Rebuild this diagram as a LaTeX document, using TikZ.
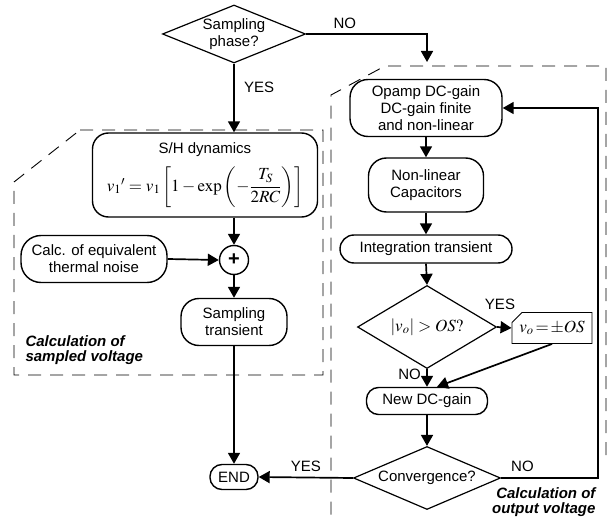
\documentclass[tikz,border=0pt]{standalone}
\usepackage{amsmath}
\usepackage{mathptmx}
\usepackage[no-math]{fontspec}
\setmainfont{Liberation Sans}
\usetikzlibrary{arrows.meta,positioning,shapes.geometric,shapes.misc}
\newcommand{\lab}{\fontsize{15}{17}\selectfont}
\newcommand{\mlab}{\fontsize{17}{20}\selectfont}
\newcommand{\tagfont}{\fontsize{15}{15}\selectfont\bfseries\itshape}
\tikzset{
  flow/.style={-{Triangle[length=11pt,width=12pt]}, line width=1.7pt},
  proc/.style={draw, line width=1.4pt, rounded corners=14pt, align=center, inner sep=2pt, font=\lab},
  pill/.style={proc, rounded corners=12pt},
  decide/.style={diamond, draw, line width=1.2pt, align=center, inner sep=0pt, font=\lab},
  region/.style={dash pattern=on 13pt off 9pt, line width=0.9pt},
  tag/.style={font=\tagfont},
  answer/.style={font=\lab},
}

\begin{document}
\begin{tikzpicture}[x=1pt, y=-1pt]
\useasboundingbox (0,0) rectangle (607,521);

% dashed regions
\draw[region] (80,130) -- (323,130) -- (323,375) -- (14,375) -- (14,182) -- cycle;
\draw[region] (606,455) -- (606,66) -- (385,66) -- (331,95) -- (331,521);

% sampling branch
\node[decide, aspect=2.46, minimum width=143pt, minimum height=58pt] (phase) at (234,34) {Sampling\\phase?};
\node[proc, rounded corners=16pt, minimum width=225pt, minimum height=84pt] (sh) at (205,175)
  {S/H dynamics\\[9pt] {\mlab ${v_1}' = v_1\left[1-\exp\left(-\dfrac{T_S}{2RC}\right)\right]$}};
\node[proc, rounded corners=20pt, minimum width=146pt, minimum height=47pt] (noise) at (94,259) {Calc. of equivalent\\thermal noise};
\node[circle, draw, line width=1.4pt, minimum size=29pt, inner sep=0pt, font=\fontsize{20}{20}\selectfont\bfseries] (sum) at (234,260) {+};
\node[proc, rounded corners=18pt, minimum width=106pt, minimum height=47pt] (samp) at (234,322) {Sampling\\transient};
\node[pill, minimum width=48pt, minimum height=25pt, inner sep=1pt] (end) at (234,477) {END};
\node[tag, anchor=west, align=left] (sampled) at (22,350) {Calculation of\\sampled voltage};

% output branch
\node[proc, rounded corners=18pt, minimum width=152pt, minimum height=57pt] (opamp) at (426,108) {Opamp DC-gain\\DC-gain finite\\and non-linear};
\node[proc, rounded corners=18pt, minimum width=115pt, minimum height=54pt] (caps) at (426,185) {Non-linear\\Capacitors};
\node[proc, minimum width=172pt, minimum height=28pt] (integ) at (426,249) {Integration transient};
\node[decide, aspect=1.7, minimum width=139pt, minimum height=83pt] (check) at (427,327) {\mlab$\left|v_o\right| > OS\mathrm{?}$};
\node[chamfered rectangle, chamfered rectangle corners=north west, chamfered rectangle xsep=6pt, chamfered rectangle ysep=4pt,
  draw, line width=0.9pt, minimum width=80pt, minimum height=31pt, inner sep=1pt, font=\mlab] (clip) at (552,328) {$v_o\!=\!\pm OS$};
\node[pill, minimum width=121pt, minimum height=27pt] (newgain) at (427,401) {New DC-gain};
\node[decide, aspect=2.33, minimum width=147pt, minimum height=63pt] (conv) at (427,478) {Convergence?};
\node[tag, anchor=east, align=right] (output) at (599,502) {Calculation of\\output voltage};

\coordinate (noend) at (427,62);
\coordinate (loop) at (598,478);

% connectors
\draw[flow] (phase.south) -- (sh.north -| phase.south) node[answer, pos=0.35, right=6pt] {YES};
\draw[flow] (phase.east) -| (noend) node[answer, pos=0.16, above=1pt] {NO};
\draw[flow] (sh.south -| sum.north) -- (sum.north);
\draw[flow] (noise.east) -- (sum.west);
\draw[flow] (sum.south) -- (samp.north);
\draw[flow] (samp.south) -- (end.north);
\draw[flow] (opamp.south) -- (caps.north);
\draw[flow] (caps.south) -- (integ.north);
\draw[flow] (integ.south) -- (check.north);
\draw[flow] (check.east) -- (clip.west) node[answer, pos=0.2, above=13pt] {YES};
\draw[flow] (check.south) -- (newgain.north) node[answer, pos=0.3, left=2pt] {NO};
\draw[flow] (clip.south) -- ([xshift=10pt]newgain.north);
\draw[flow] (newgain.south) -- (conv.north);
\draw[flow] (conv.west) -- (end.east) node[answer, midway, above=2pt] {YES};
\draw[flow] (conv.east) -- (loop) node[answer, pos=0.22, above=2pt] {NO} |- (opamp.east);
\end{tikzpicture}
\end{document}
